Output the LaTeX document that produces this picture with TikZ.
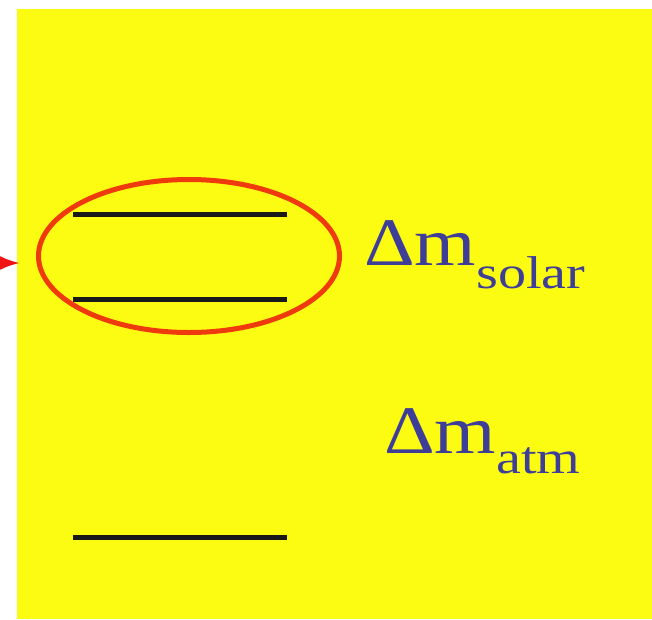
\documentclass[tikz,border=0pt]{standalone}
\usepackage{fontspec}
\setmainfont{Liberation Serif}
\usepackage{xcolor}
\usepackage{graphicx}
\usepackage{tikz}
\usetikzlibrary{arrows.meta,shapes.geometric}
\definecolor{cPanel}{HTML}{FCFC12}
\definecolor{cRing}{HTML}{EE3A0C}
\definecolor{cArrow}{HTML}{F01414}
\definecolor{cLabel}{HTML}{3E3E98}
\newcommand{\dmlabel}[2]{\scalebox{1.16}[1]{\fontsize{68}{68}\selectfont\char"0394 m}\raisebox{-#2pt}{\scalebox{1.22}[1]{\fontsize{46}{46}\selectfont #1}}}
\tikzset{
  level/.style ={line width=5pt, draw=black!90},
  ring/.style  ={draw=cRing, ellipse, line width=5pt, inner sep=0pt},
  splitlbl/.style={text=cLabel, inner sep=0pt, anchor=base west},
  pointer/.style={-{Latex[length=20pt,width=14pt]}, line width=3pt, draw=cArrow},
}
\begin{document}
\begin{tikzpicture}[x=1pt,y=-1pt]
    \useasboundingbox (0,0) rectangle (652,619);
    \fill[cPanel] (17,9) rectangle (652,619);
    \coordinate (l1a) at (73,214); \coordinate (l1b) at (287,214);
    \coordinate (l2a) at (73,299); \coordinate (l2b) at (287,299);
    \coordinate (l3a) at (73,537); \coordinate (l3b) at (287,537);
    \draw[level](l1a)--(l1b);\draw[level](l2a)--(l2b);\draw[level](l3a)--(l3b);
    \node[ring, minimum width=301, minimum height=153] (pair) at (189,256) {};
    \node[splitlbl] (solar) at (364,265) {\dmlabel{solar}{23}};
    \node[splitlbl] (atm) at (384,453) {\dmlabel{atm}{20}};
    \coordinate (tail) at (-30,263);
    \coordinate (tip) at (20,263);
    \draw[pointer](tail)--(tip);
  \end{tikzpicture}
\end{document}
